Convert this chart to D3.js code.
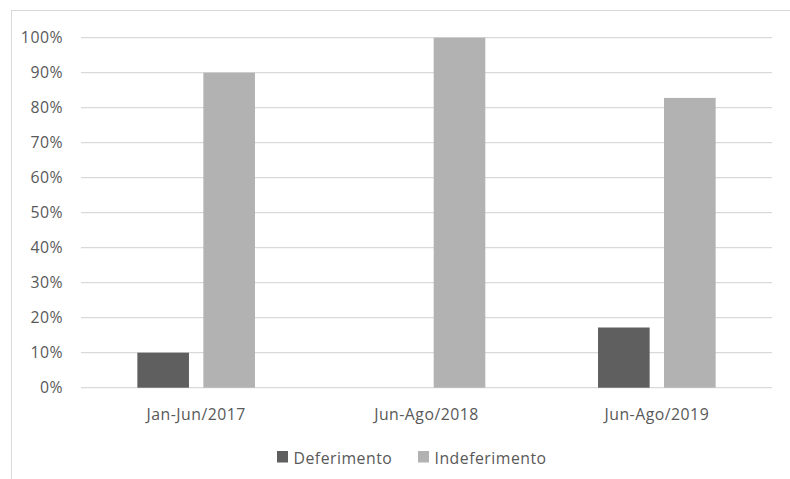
<!DOCTYPE html>
<html>
<head>
<meta charset="utf-8">
<script src="https://cdn.jsdelivr.net/npm/d3@7"></script>
<style>
  html, body { margin: 0; padding: 0; background: #fff; }
  svg { display: block; }
  text { font-family: "Open Sans", sans-serif; fill: #595959; letter-spacing: 0.5px; }
</style>
</head>
<body>
<svg id="chart" width="790" height="479"></svg>
<script>
// Share of decisions per period
const categories = ["Jan-Jun/2017", "Jun-Ago/2018", "Jun-Ago/2019"];
const seriesNames = ["Deferimento", "Indeferimento"];
const deferimento = [0.10, 0.0, 0.172];
const indeferimento = [0.90, 1.0, 0.828];
const tickValues = [0, 0.1, 0.2, 0.3, 0.4, 0.5, 0.6, 0.7, 0.8, 0.9, 1.0];
const colors = ["#5f5f5f", "#b2b2b2"];

const FONT = "'Open Sans', sans-serif";
const FS = 15.8;

const svg = d3.select("#chart");
const W = 790, H = 479;
const m = { left: 81, right: 18, top: 37.7, bottom: 91.3 };

// Outer chart frame (runs past the right and bottom edges)
svg.append("rect")
  .attr("x", 11.5).attr("y", 10.5)
  .attr("width", 800).attr("height", 500)
  .attr("fill", "none").attr("stroke", "#d9d9d9").attr("stroke-width", 1);

const y = d3.scaleLinear().domain([0, 1]).range([H - m.bottom, m.top]);
const x0 = d3.scaleBand().domain(categories).range([m.left, W - m.right]).paddingInner(0).paddingOuter(0);
const x1 = d3.scaleBand().domain(seriesNames).range([0, x0.bandwidth()]).paddingInner(0.218).paddingOuter(0.854);

// Gridlines
svg.append("g").selectAll("line").data(tickValues).join("line")
  .attr("x1", m.left).attr("x2", W - m.right)
  .attr("y1", d => y(d)).attr("y2", d => y(d))
  .attr("stroke", "#d9d9d9").attr("stroke-width", 1.3);

// Y axis labels
const yAxis = d3.axisLeft(y).tickValues(tickValues).tickFormat(d3.format(".0%")).tickSize(0).tickPadding(18);
const gy = svg.append("g").attr("transform", `translate(${m.left},0)`).call(yAxis);
gy.select(".domain").remove();
gy.selectAll("text").attr("font-size", FS).attr("fill", "#595959").style("font-family", FONT);

// Bars
const rows = categories.map((c, i) => ({ cat: c, vals: [deferimento[i], indeferimento[i]] }));
const groups = svg.append("g").selectAll("g").data(rows).join("g")
  .attr("transform", d => `translate(${x0(d.cat)},0)`);
groups.selectAll("rect").data(d => d.vals.map((v, j) => ({ name: seriesNames[j], v, j })))
  .join("rect")
  .attr("x", d => x1(d.name))
  .attr("width", x1.bandwidth())
  .attr("y", d => y(d.v))
  .attr("height", d => y(0) - y(d.v))
  .attr("fill", d => colors[d.j]);

// X axis labels
const xAxis = d3.axisBottom(x0).tickSize(0).tickPadding(21.5);
const gx = svg.append("g").attr("transform", `translate(0,${y(0)})`).call(xAxis);
gx.select(".domain").remove();
gx.selectAll("text").attr("font-size", FS).attr("fill", "#595959").style("font-family", FONT);

// Legend
const legendX = [277, 418];
const lg = svg.append("g").selectAll("g").data(seriesNames).join("g")
  .attr("transform", (d, i) => `translate(${legendX[i]},451)`);
lg.append("rect").attr("width", 11).attr("height", 11.5).attr("fill", (d, i) => colors[i]);
lg.append("text").attr("x", 16.5).attr("y", 12.5).attr("font-size", FS).style("font-family", FONT).text(d => d);
</script>
</body>
</html>
